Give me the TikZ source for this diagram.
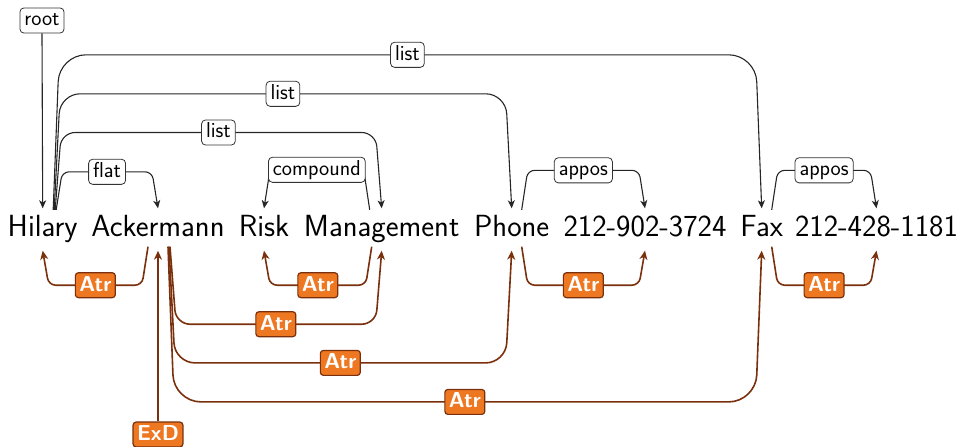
\documentclass[tikz,border=0pt]{standalone}
\usepackage{fontspec}
\usetikzlibrary{arrows.meta,calc}
\definecolor{depbrown}{RGB}{122,48,12}
\definecolor{deporange}{RGB}{238,120,34}
\begin{document}
\begin{tikzpicture}[x=1pt,y=-1pt,
  word/.style={anchor=base, inner xsep=0pt, inner ysep=8pt, text height=20pt, text depth=6pt,
    font=\sffamily\fontsize{30.6}{36}\selectfont},
  lab/.style={draw=black!80, fill=white, line width=0.8pt, rounded corners=4pt,
    inner xsep=4.5pt, inner ysep=3pt, text height=14.9pt, text depth=4.2pt, text=black,
    font=\sffamily\fontsize{21.6}{26}\selectfont},
  atr/.style={draw=depbrown, fill=deporange, text=white, line width=1.2pt, rounded corners=3pt,
    inner xsep=4pt, inner ysep=3.5pt, text height=14.9pt, text depth=3pt,
    font=\sffamily\bfseries\fontsize{21.6}{26}\selectfont},
  upedge/.style={draw=black!85, line width=1.1pt, -{Stealth[length=8pt,width=7pt,inset=2.2pt]}},
  downedge/.style={draw=depbrown, line width=1.6pt, -{Stealth[length=9pt,width=8pt,inset=2.8pt]}}
]
\useasboundingbox (0,0) rectangle (962,447);

% words
\node[word] (w1) at (42.7,236.5) {Hilary};
\node[word] (w2) at (158,236.5) {Ackermann};
\node[word] (w3) at (264,236.5) {Risk};
\node[word] (w4) at (381.7,236.5) {Management};
\node[word] (w5) at (511.7,236.5) {Phone};
\node[word] (w6) at (645,236.5) {212-902-3724};
\node[word] (w7) at (761.7,236.5) {Fax};
\node[word] (w8) at (876.5,236.5) {212-428-1181};

% root
\node[lab] (root) at (42,20.5) {root};
\draw[upedge] (root.south) -- (w1.north);

% upper edges
\draw[upedge, rounded corners=7pt] ($(w1.north)+(13.5,1.5)$) -- ++(6,-38)
  -- ($(w2.north)+(-6,-36.5)$) node[lab,pos=.5] (lflat) {flat} -- (w2.north);
\draw[upedge, rounded corners=14pt] ($(w1.north)+(12.5,1.5)$) -- ++(6,-77.3)
  -- ($(w4.north)+(-6,-75.8)$) node[lab,pos=.5] (llist1) {list} -- (w4.north);
\draw[upedge, rounded corners=20pt] ($(w1.north)+(11.5,1.5)$) -- ++(6,-116)
  -- ($(w5.north)+(-6,-114.5)$) node[lab,pos=.5] (llist2) {list} -- (w5.north);
\draw[upedge, rounded corners=27pt] ($(w1.north)+(10.5,1.5)$) -- ++(6,-155)
  -- ($(w7.north)+(-6,-153.5)$) node[lab,pos=.5] (llist3) {list} -- (w7.north);
\draw[upedge, rounded corners=7pt] ($(w4.north)+(-12,1.5)$) -- ++(-6,-40)
  -- ($(w3.north)+(6,-38.5)$) node[lab,pos=.5] (lcomp) {compound} -- (w3.north);
\draw[upedge, rounded corners=7pt] ($(w5.north)+(10,1.5)$) -- ++(6,-39.5)
  -- ($(w6.north)+(-6,-38)$) node[lab,pos=.5] (lapp1) {appos} -- (w6.north);
\draw[upedge, rounded corners=7pt] ($(w7.north)+(10,1.5)$) -- ++(6,-39.5)
  -- ($(w8.north)+(-6,-38)$) node[lab,pos=.5] (lapp2) {appos} -- (w8.north);

% lower edges
\draw[downedge, rounded corners=7pt] ($(w2.south)+(-10,-4)$) -- ++(-6,38.5)
  -- ($(w1.south)+(6,34.5)$) node[atr,pos=.5] (a1) {Atr} -- (w1.south);
\draw[downedge, rounded corners=7pt] ($(w4.south)+(-10,-4)$) -- ++(-6,38.5)
  -- ($(w3.south)+(6,34.5)$) node[atr,pos=.5] (a2) {Atr} -- (w3.south);
\draw[downedge, rounded corners=27pt] ($(w2.south)+(10,-4)$) -- ++(6,155.2)
  -- ($(w7.south)+(-6,151.2)$) node[atr,pos=.5] (a5) {Atr} -- (w7.south);
\draw[downedge, rounded corners=20pt] ($(w2.south)+(11,-4)$) -- ++(6,116.2)
  -- ($(w5.south)+(-6,112.2)$) node[atr,pos=.5] (a4) {Atr} -- (w5.south);
\draw[downedge, rounded corners=14pt] ($(w2.south)+(12,-4)$) -- ++(6,77.5)
  -- ($(w4.south)+(-6,73.5)$) node[atr,pos=.5] (a3) {Atr} -- (w4.south);
\draw[downedge, rounded corners=7pt] ($(w5.south)+(10,-4)$) -- ++(6,38.5)
  -- ($(w6.south)+(-6,34.5)$) node[atr,pos=.5] (a6) {Atr} -- (w6.south);
\draw[downedge, rounded corners=7pt] ($(w7.south)+(10,-4)$) -- ++(6,38.5)
  -- ($(w8.south)+(-6,34.5)$) node[atr,pos=.5] (a7) {Atr} -- (w8.south);

% ExD
\node[atr] (exd) at (158,434.5) {ExD};
\draw[downedge] (exd.north) -- (w2.south);
\end{tikzpicture}
\end{document}
